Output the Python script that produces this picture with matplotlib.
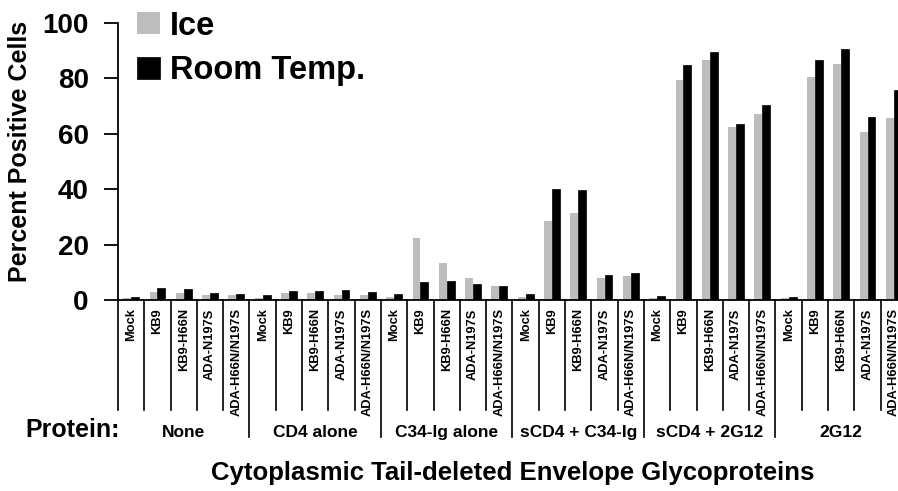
import numpy as np
import matplotlib
matplotlib.use("Agg")
import matplotlib.pyplot as plt
import matplotlib.transforms as mtransforms

plt.rcParams['font.family'] = ['Liberation Sans', 'DejaVu Sans']
plt.rcParams['font.weight'] = 'bold'

# data
groups = ['None', 'CD4 alone', 'C34-Ig alone', 'sCD4 + C34-Ig', 'sCD4 + 2G12', '2G12']
envelopes = ['Mock', 'KB9', 'KB9-H66N', 'ADA-N197S', 'ADA-H66N/N197S']

ice = [0.8, 2.8, 2.4, 1.7, 1.7,
       0.8, 2.5, 2.4, 1.7, 1.8,
       1.1, 22.5, 13.3, 8.1, 5.2,
       1.0, 28.5, 31.4, 7.8, 8.7,
       0.7, 79.5, 86.5, 62.5, 67.0,
       0.7, 80.5, 85.4, 60.6, 65.8]
room_temp = [1.0, 4.3, 4.0, 2.4, 2.3,
             1.8, 3.2, 3.1, 3.5, 2.8,
             2.0, 6.4, 6.7, 5.7, 5.1,
             2.0, 40.1, 39.7, 8.9, 9.6,
             1.6, 84.7, 89.4, 63.7, 70.4,
             1.0, 86.6, 90.7, 66.1, 75.9]

n_env = len(envelopes)
n = len(ice)
x = np.arange(n)
labels = envelopes * len(groups)

fig = plt.figure(figsize=(8.98, 4.91), dpi=100)
# axes runs a little past the right edge, like the cropped original
ax = fig.add_axes([0.1314, 0.389, 0.8786, 0.564])

w = 0.30
b1 = ax.bar(x - w / 2, ice, w, color='#bdbdbd', label='Ice')
b2 = ax.bar(x + w / 2, room_temp, w, color='black', edgecolor='black',
            linewidth=0.5, label='Room Temp.')

ax.set_xlim(-0.5, n - 0.5)
ax.set_ylim(0, 100)
ax.set_yticks([0, 20, 40, 60, 80, 100])
ax.tick_params(axis='y', labelsize=20, length=10, width=1.3, pad=11)
ax.set_xticks(x, labels, rotation=90, fontsize=9.3, fontweight='bold')
ax.tick_params(axis='x', length=0, pad=6)
for lab in ax.get_xticklabels():
    lab.set_verticalalignment('top')

ax.spines['top'].set_visible(False)
ax.spines['right'].set_visible(False)
ax.spines['left'].set_linewidth(1.3)
ax.spines['bottom'].set_linewidth(1.3)

# separator lines under the axis
trans = mtransforms.blended_transform_factory(ax.transData, ax.transAxes)
for i in range(n + 1):
    xb = i - 0.5
    bottom = -0.495 if (i % n_env == 0 and i > 0) else -0.397
    ax.plot([xb, xb], [0, bottom], color='black', lw=1.2,
            transform=trans, clip_on=False)

for g, name in enumerate(groups):
    xc = g * n_env + (n_env - 1) / 2
    ax.text(xc, -0.477, name, transform=trans, ha='center', va='center',
            fontsize=12.5, fontweight='bold')

ax.text(-0.124, 0.536, 'Percent Positive Cells', transform=ax.transAxes,
        rotation=90, ha='center', va='center', fontsize=18, fontweight='bold')

fig.text(25 / 898, 0.124, 'Protein:', ha='left', va='center',
         fontsize=18, fontweight='bold')
ax.text(0.5, -0.625, 'Cytoplasmic Tail-deleted Envelope Glycoproteins',
        transform=ax.transAxes, ha='center', va='center',
        fontsize=18.5, fontweight='bold')

ax.legend(handles=[b1, b2], loc='upper left', bbox_to_anchor=(0.024, 1.045),
          frameon=False, prop={'size': 23.5, 'weight': 'bold'},
          handlelength=0.7, handleheight=0.65,
          handletextpad=0.3, labelspacing=0.42, borderpad=0, borderaxespad=0)

fig.savefig('out.png', dpi=100)
